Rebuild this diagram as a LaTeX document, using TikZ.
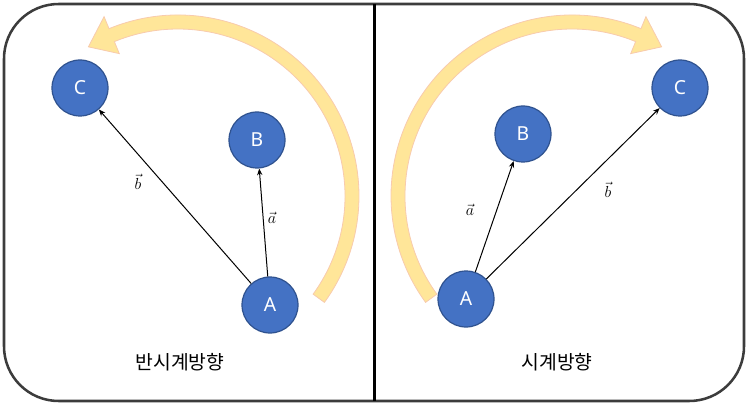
\documentclass[tikz,border=0pt]{standalone}
\usepackage{fontspec}
\newfontfamily\kofont{Noto Sans CJK KR}
\newfontfamily\lblfont{Noto Sans}
\usetikzlibrary{arrows.meta,calc}
\definecolor{nodeblue}{HTML}{4472C4}
\definecolor{nodeedge}{HTML}{2F528F}
\definecolor{arcfill}{HTML}{FFE699}
\definecolor{arcedge}{HTML}{F8CBAD}
\definecolor{framegray}{HTML}{3C3C3C}
\begin{document}
\begin{tikzpicture}[x=0.75pt,y=-0.75pt,
  frame/.style={draw=framegray, line width=1.9pt, rounded corners=41pt},
  divider/.style={draw=black, line width=1.9pt},
  bigarrow/.style={fill=arcfill, draw=arcedge, line width=0.6pt},
  circ/.style={circle, fill=nodeblue, draw=nodeedge, line width=0.9pt,
    minimum size=42pt, inner sep=0pt, text=white,
    font=\lblfont\fontsize{14.5}{17}\selectfont},
  vecarrow/.style={-{Stealth[length=5pt,width=4pt]}, line width=0.75pt},
  veclabel/.style={font=\fontsize{13}{15}\selectfont, inner sep=0pt},
  title/.style={font=\kofont\fontsize{14.5}{17}\selectfont, inner sep=0pt}]
\useasboundingbox (0,0) rectangle (750,406);
% frame and divider
\draw[frame] (4,4) rectangle (744,401);
\draw[divider] (374.5,4) -- (374.5,401);
% big curved arrows
\coordinate (cL) at (178,196);
\coordinate (cR) at (572,196);
\path[bigarrow] ($(cL)+(36:167)$) arc[start angle=36, end angle=-112.4, radius=167]
  -- ($(cL)+(-112.4:154)$) -- ($(cL)+(-121:174)$) -- ($(cL)+(-112.4:194)$)
  -- ($(cL)+(-112.4:181)$) arc[start angle=-112.4, end angle=36, radius=181] -- cycle;
\path[bigarrow] ($(cR)+(144:167)$) arc[start angle=144, end angle=292.4, radius=167]
  -- ($(cR)+(292.4:154)$) -- ($(cR)+(301:174)$) -- ($(cR)+(292.4:194)$)
  -- ($(cR)+(292.4:181)$) arc[start angle=292.4, end angle=144, radius=181] -- cycle;
% left panel
\node[circ] (LC) at (80,88) {C};
\node[circ] (LB) at (257,140) {B};
\node[circ] (LA) at (270,305) {A};
\draw[vecarrow] (LA) -- (LC);
\draw[vecarrow] (LA) -- (LB);
\node[veclabel] (Lb) at (138,182) {$\vec{b}$};
\node[veclabel] (La) at (272,218) {$\vec{a}$};
\node[title] (Lt) at (180,362) {반시계방향};
% right panel
\node[circ] (RC) at (680,88) {C};
\node[circ] (RB) at (523,134) {B};
\node[circ] (RA) at (466,299) {A};
\draw[vecarrow] (RA) -- (RB);
\draw[vecarrow] (RA) -- (RC);
\node[veclabel] (Ra) at (470,210) {$\vec{a}$};
\node[veclabel] (Rb) at (608,190) {$\vec{b}$};
\node[title] (Rt) at (557,362) {시계방향};
\end{tikzpicture}
\end{document}
